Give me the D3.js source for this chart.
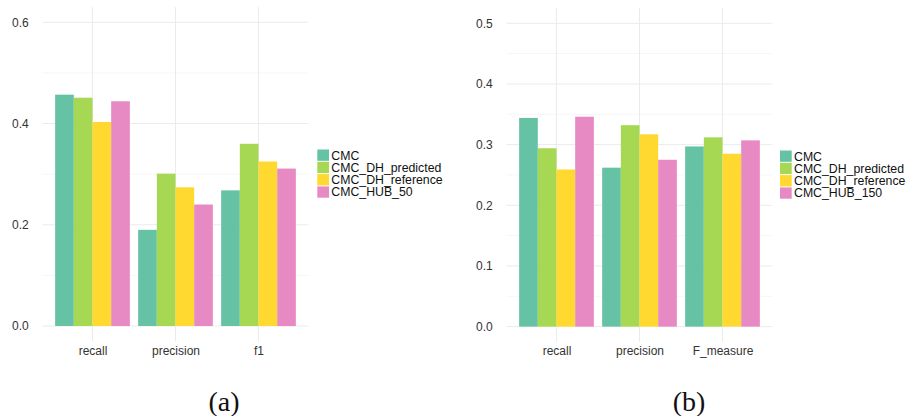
<!DOCTYPE html>
<html>
<head>
<meta charset="utf-8">
<script src="https://cdn.jsdelivr.net/npm/d3@7"></script>
<style>
  html, body { margin: 0; padding: 0; background: #fff; }
  svg { display: block; }
</style>
</head>
<body>
<svg id="chart" width="907" height="416"></svg>
<script>
// ---- data ----
const categoriesA = ["recall", "precision", "f1"];
const seriesA = ["CMC", "CMC_DH_predicted", "CMC_DH_reference", "CMC_HUB_50"];
const valuesA_CMC = [0.457, 0.190, 0.268];
const valuesA_DHpred = [0.451, 0.301, 0.360];
const valuesA_DHref = [0.403, 0.274, 0.325];
const valuesA_HUB = [0.444, 0.240, 0.311];
const ticksA = [0.0, 0.2, 0.4, 0.6];
const minorA = [0.1, 0.3, 0.5];

const categoriesB = ["recall", "precision", "F_measure"];
const seriesB = ["CMC", "CMC_DH_predicted", "CMC_DH_reference", "CMC_HUB_150"];
const valuesB_CMC = [0.344, 0.262, 0.297];
const valuesB_DHpred = [0.294, 0.332, 0.312];
const valuesB_DHref = [0.259, 0.317, 0.285];
const valuesB_HUB = [0.346, 0.275, 0.307];
const ticksB = [0.0, 0.1, 0.2, 0.3, 0.4, 0.5];
const minorB = [0.05, 0.15, 0.25, 0.35, 0.45];

const colors = ["#66c2a5", "#a6d854", "#ffd92f", "#e78ac3"];
const captions = ["(a)", "(b)"];

const svg = d3.select("#chart");

function drawPanel(opts) {
  const { left, right, top, bottom, yMin, yMax, cats, series, vals, ticks, minor, tickFmt, legendX, legendY, caption, captionX } = opts;
  const g = svg.append("g");
  const x = d3.scalePoint().domain(cats).range([left, right]).padding(0.6);
  const step = x.step();
  const inner = d3.scaleBand().domain(series).range([-0.45 * step, 0.45 * step]).padding(0);
  const y = d3.scaleLinear().domain([yMin, yMax]).range([bottom, top]);

  // minor grid
  g.selectAll(".minor").data(minor).join("line")
    .attr("x1", left).attr("x2", right)
    .attr("y1", d => y(d)).attr("y2", d => y(d))
    .attr("stroke", "#f6f6f6").attr("stroke-width", 1);
  // major grid
  g.selectAll(".major").data(ticks).join("line")
    .attr("x1", left).attr("x2", right)
    .attr("y1", d => y(d)).attr("y2", d => y(d))
    .attr("stroke", "#ebebeb").attr("stroke-width", 1);
  g.selectAll(".vmajor").data(cats).join("line")
    .attr("x1", d => x(d)).attr("x2", d => x(d))
    .attr("y1", top).attr("y2", bottom)
    .attr("stroke", "#ebebeb").attr("stroke-width", 1);

  // bars
  series.forEach((s, si) => {
    g.selectAll(null).data(cats.map((c, ci) => ({ c, v: vals[si][ci] }))).join("rect")
      .attr("x", d => x(d.c) + inner(s))
      .attr("width", inner.bandwidth())
      .attr("y", d => y(d.v))
      .attr("height", d => y(0) - y(d.v))
      .attr("fill", colors[si]);
  });

  // y axis labels
  const yAxis = d3.axisLeft(y).tickValues(ticks).tickFormat(tickFmt).tickSize(0).tickPadding(14);
  const ya = g.append("g").attr("transform", `translate(${left},0)`).call(yAxis);
  ya.select(".domain").remove();
  ya.selectAll("text").attr("fill", "#333").style("font-family", "Liberation Sans, Arial, sans-serif").style("font-size", "12px");

  // x axis labels
  const xAxis = d3.axisBottom(x).tickSize(0).tickPadding(20);
  const xa = g.append("g").attr("transform", `translate(0,${y(0)})`).call(xAxis);
  xa.select(".domain").remove();
  xa.selectAll("text").attr("fill", "#333").style("font-family", "Liberation Sans, Arial, sans-serif").style("font-size", "12px");

  // legend
  const keyH = 12.3;
  const lg = g.append("g").attr("transform", `translate(${legendX},${legendY})`);
  series.forEach((s, si) => {
    lg.append("rect").attr("x", 0).attr("y", si * keyH + 0.5).attr("width", 11.7).attr("height", keyH - 1)
      .attr("fill", colors[si]);
    lg.append("text").attr("x", 14).attr("y", si * keyH + keyH / 2).attr("dy", "0.36em")
      .attr("fill", "#111")
      .style("font-family", "Liberation Sans, Arial, sans-serif").style("font-size", "12.3px")
      .text(s);
  });

  // caption
  g.append("text").attr("x", captionX).attr("y", 411).attr("text-anchor", "middle")
    .style("font-family", "Liberation Serif, Times New Roman, serif").style("font-size", "28px")
    .attr("fill", "#111").text(caption);
}

drawPanel({
  left: 42.7, right: 308.3, top: 7.1, bottom: 341.2, yMin: -0.03, yMax: 0.63,
  cats: categoriesA, series: seriesA,
  vals: [valuesA_CMC, valuesA_DHpred, valuesA_DHref, valuesA_HUB],
  ticks: ticksA, minor: minorA, tickFmt: d3.format(".1f"),
  legendX: 317.3, legendY: 149, caption: captions[0], captionX: 224
});

drawPanel({
  left: 506.7, right: 772.3, top: 8.1, bottom: 341.8, yMin: -0.025, yMax: 0.525,
  cats: categoriesB, series: seriesB,
  vals: [valuesB_CMC, valuesB_DHpred, valuesB_DHref, valuesB_HUB],
  ticks: ticksB, minor: minorB, tickFmt: d3.format(".1f"),
  legendX: 780, legendY: 150, caption: captions[1], captionX: 689
});
</script>
</body>
</html>
